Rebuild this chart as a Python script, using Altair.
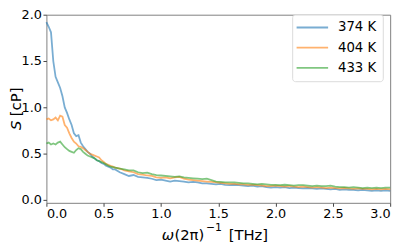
import altair as alt
import pandas as pd

# ---------------- data ----------------
labels = ["374 K", "404 K", "433 K"]
colors = ["#1f77b4", "#ff7f0e", "#2ca02c"]

x_vals = [0.00, 0.02, 0.04, 0.06, 0.08, 0.10, 0.12, 0.14, 0.16, 0.18,
          0.20, 0.22, 0.24, 0.26, 0.28, 0.30, 0.32, 0.34, 0.36, 0.38,
          0.40, 0.42, 0.44, 0.46, 0.48, 0.50, 0.52, 0.54, 0.56, 0.58,
          0.60, 0.64, 0.68, 0.72, 0.76, 0.80, 0.84, 0.88, 0.92, 0.96,
          1.00, 1.04, 1.08, 1.12, 1.16, 1.20, 1.24, 1.28, 1.32, 1.36,
          1.40, 1.44, 1.48, 1.52, 1.56, 1.60, 1.64, 1.68, 1.72, 1.76,
          1.80, 1.84, 1.88, 1.92, 1.96, 2.00, 2.04, 2.08, 2.12, 2.16,
          2.20, 2.24, 2.28, 2.32, 2.36, 2.40, 2.44, 2.48, 2.52, 2.56,
          2.60, 2.64, 2.68, 2.72, 2.76, 2.80, 2.84, 2.88, 2.92, 2.96,
          3.00]

s_374 = [1.92, 1.87, 1.81, 1.50, 1.33, 1.27, 1.21, 1.12, 1.00, 0.94,
         0.87, 0.81, 0.72, 0.69, 0.70, 0.62, 0.58, 0.55, 0.52, 0.50,
         0.47, 0.45, 0.43, 0.42, 0.40, 0.39, 0.37, 0.36, 0.35, 0.33,
         0.33, 0.30, 0.28, 0.26, 0.27, 0.25, 0.245, 0.24, 0.23, 0.215,
         0.22, 0.21, 0.20, 0.21, 0.205, 0.20, 0.19, 0.195, 0.19, 0.18,
         0.18, 0.175, 0.17, 0.175, 0.165, 0.16, 0.165, 0.16, 0.155, 0.15,
         0.155, 0.145, 0.15, 0.14, 0.135, 0.14, 0.135, 0.14, 0.13, 0.135,
         0.13, 0.125, 0.13, 0.125, 0.12, 0.125, 0.12, 0.115, 0.12, 0.11,
         0.115, 0.11, 0.11, 0.105, 0.11, 0.105, 0.10, 0.105, 0.10, 0.105,
         0.10]

s_404 = [0.87, 0.88, 0.86, 0.87, 0.89, 0.86, 0.91, 0.90, 0.81, 0.78,
         0.72, 0.67, 0.63, 0.61, 0.58, 0.575, 0.56, 0.54, 0.52, 0.50,
         0.49, 0.48, 0.47, 0.46, 0.43, 0.41, 0.39, 0.38, 0.37, 0.36,
         0.35, 0.34, 0.32, 0.31, 0.30, 0.28, 0.275, 0.265, 0.26, 0.245,
         0.24, 0.245, 0.235, 0.245, 0.25, 0.23, 0.22, 0.215, 0.21, 0.205,
         0.20, 0.195, 0.19, 0.185, 0.18, 0.175, 0.175, 0.17, 0.17, 0.165,
         0.165, 0.16, 0.155, 0.15, 0.15, 0.155, 0.15, 0.145, 0.15, 0.145,
         0.14, 0.145, 0.14, 0.135, 0.14, 0.135, 0.13, 0.135, 0.13, 0.125,
         0.13, 0.125, 0.12, 0.125, 0.12, 0.12, 0.115, 0.12, 0.115, 0.12,
         0.115]

s_433 = [0.61, 0.62, 0.60, 0.61, 0.60, 0.62, 0.63, 0.60, 0.57, 0.55,
         0.53, 0.52, 0.51, 0.54, 0.56, 0.55, 0.52, 0.50, 0.48, 0.47,
         0.46, 0.45, 0.43, 0.42, 0.41, 0.40, 0.385, 0.37, 0.36, 0.355,
         0.35, 0.34, 0.33, 0.32, 0.32, 0.30, 0.29, 0.295, 0.28, 0.27,
         0.265, 0.26, 0.255, 0.25, 0.255, 0.245, 0.24, 0.235, 0.23, 0.225,
         0.23, 0.215, 0.20, 0.195, 0.19, 0.19, 0.19, 0.185, 0.18, 0.18,
         0.175, 0.17, 0.175, 0.17, 0.165, 0.165, 0.16, 0.165, 0.16, 0.155,
         0.16, 0.16, 0.155, 0.15, 0.155, 0.15, 0.15, 0.155, 0.145, 0.14,
         0.14, 0.135, 0.14, 0.135, 0.13, 0.135, 0.13, 0.135, 0.13, 0.135,
         0.135]

x_ticks = [0.0, 0.5, 1.0, 1.5, 2.0, 2.5, 3.0]
y_ticks = [0.0, 0.5, 1.0, 1.5, 2.0]

series = [s_374, s_404, s_433]
rows = []
for lab, vals in zip(labels, series):
    for xv, sv in zip(x_vals, vals):
        rows.append({"x": xv, "S": sv, "T": lab})
df = pd.DataFrame(rows)

FONT = "DejaVu Sans"
W, H = 349, 191

lines = alt.Chart(df).mark_line(strokeWidth=1.8, opacity=0.6).encode(
    x=alt.X("x:Q", scale=alt.Scale(domain=[0, 3], nice=False, zero=False),
            axis=alt.Axis(values=x_ticks, format=".1f", title=None)),
    y=alt.Y("S:Q", scale=alt.Scale(domain=[-0.03, 2.0], nice=False, zero=False),
            axis=alt.Axis(values=y_ticks, format=".1f", title=None)),
    color=alt.Color("T:N", scale=alt.Scale(domain=labels, range=colors), legend=None),
    order=alt.Order("x:Q"),
)

# ---- legend (manual, matplotlib style) ----
legend_box = alt.Chart(pd.DataFrame({"a": [0]})).mark_rect(
    fill="white", stroke="#d5d5d5", strokeWidth=1, cornerRadius=3, opacity=0.85
).encode(x=alt.value(250), x2=alt.value(342), y=alt.value(0), y2=alt.value(68))

legend_layers = [legend_box]
row_y = [13, 33.5, 54]
for lab, col, ry in zip(labels, colors, row_y):
    d = pd.DataFrame({"T": [lab]})
    legend_layers.append(
        alt.Chart(d).mark_rule(color=col, strokeWidth=1.8, opacity=0.6).encode(
            x=alt.value(254), x2=alt.value(286), y=alt.value(ry))
    )
    legend_layers.append(
        alt.Chart(d).mark_text(align="left", baseline="middle", font=FONT,
                               fontSize=13.5, color="black").encode(
            x=alt.value(296), y=alt.value(ry), text="T:N")
    )

# ---- axis titles with mixed italic / superscript ----
def txt(s, x, y, size=15, style="normal", angle=0):
    return alt.Chart(pd.DataFrame({"t": [s]})).mark_text(
        align="left", baseline="alphabetic", font=FONT, fontSize=size,
        fontStyle=style, color="black", angle=angle
    ).encode(x=alt.value(x), y=alt.value(y), text="t:N")

titles = [
    txt("ω", 117, 229, style="italic"),
    txt("(2π)", 130, 229),
    txt("−1", 162, 220, size=11),
    txt("[THz]", 185, 229),
    txt("S", -26, 117, style="italic", angle=270),
    txt("[cP]", -26, 103, angle=270),
]

chart = alt.layer(lines, *legend_layers, *titles).properties(
    width=W, height=H,
    autosize=alt.AutoSizeParams(type="none"),
    padding={"left": 39, "top": 5, "right": 11, "bottom": 41},
).configure_view(
    stroke="#7f7f7f", strokeWidth=1
).configure_axis(
    domain=False, grid=False, tickSize=3.5, tickColor="#444", tickWidth=1,
    labelFont=FONT, labelFontSize=13, labelColor="black", labelPadding=1.5,
)

chart.save("out.html", embed_options={"renderer": "svg", "actions": False})
